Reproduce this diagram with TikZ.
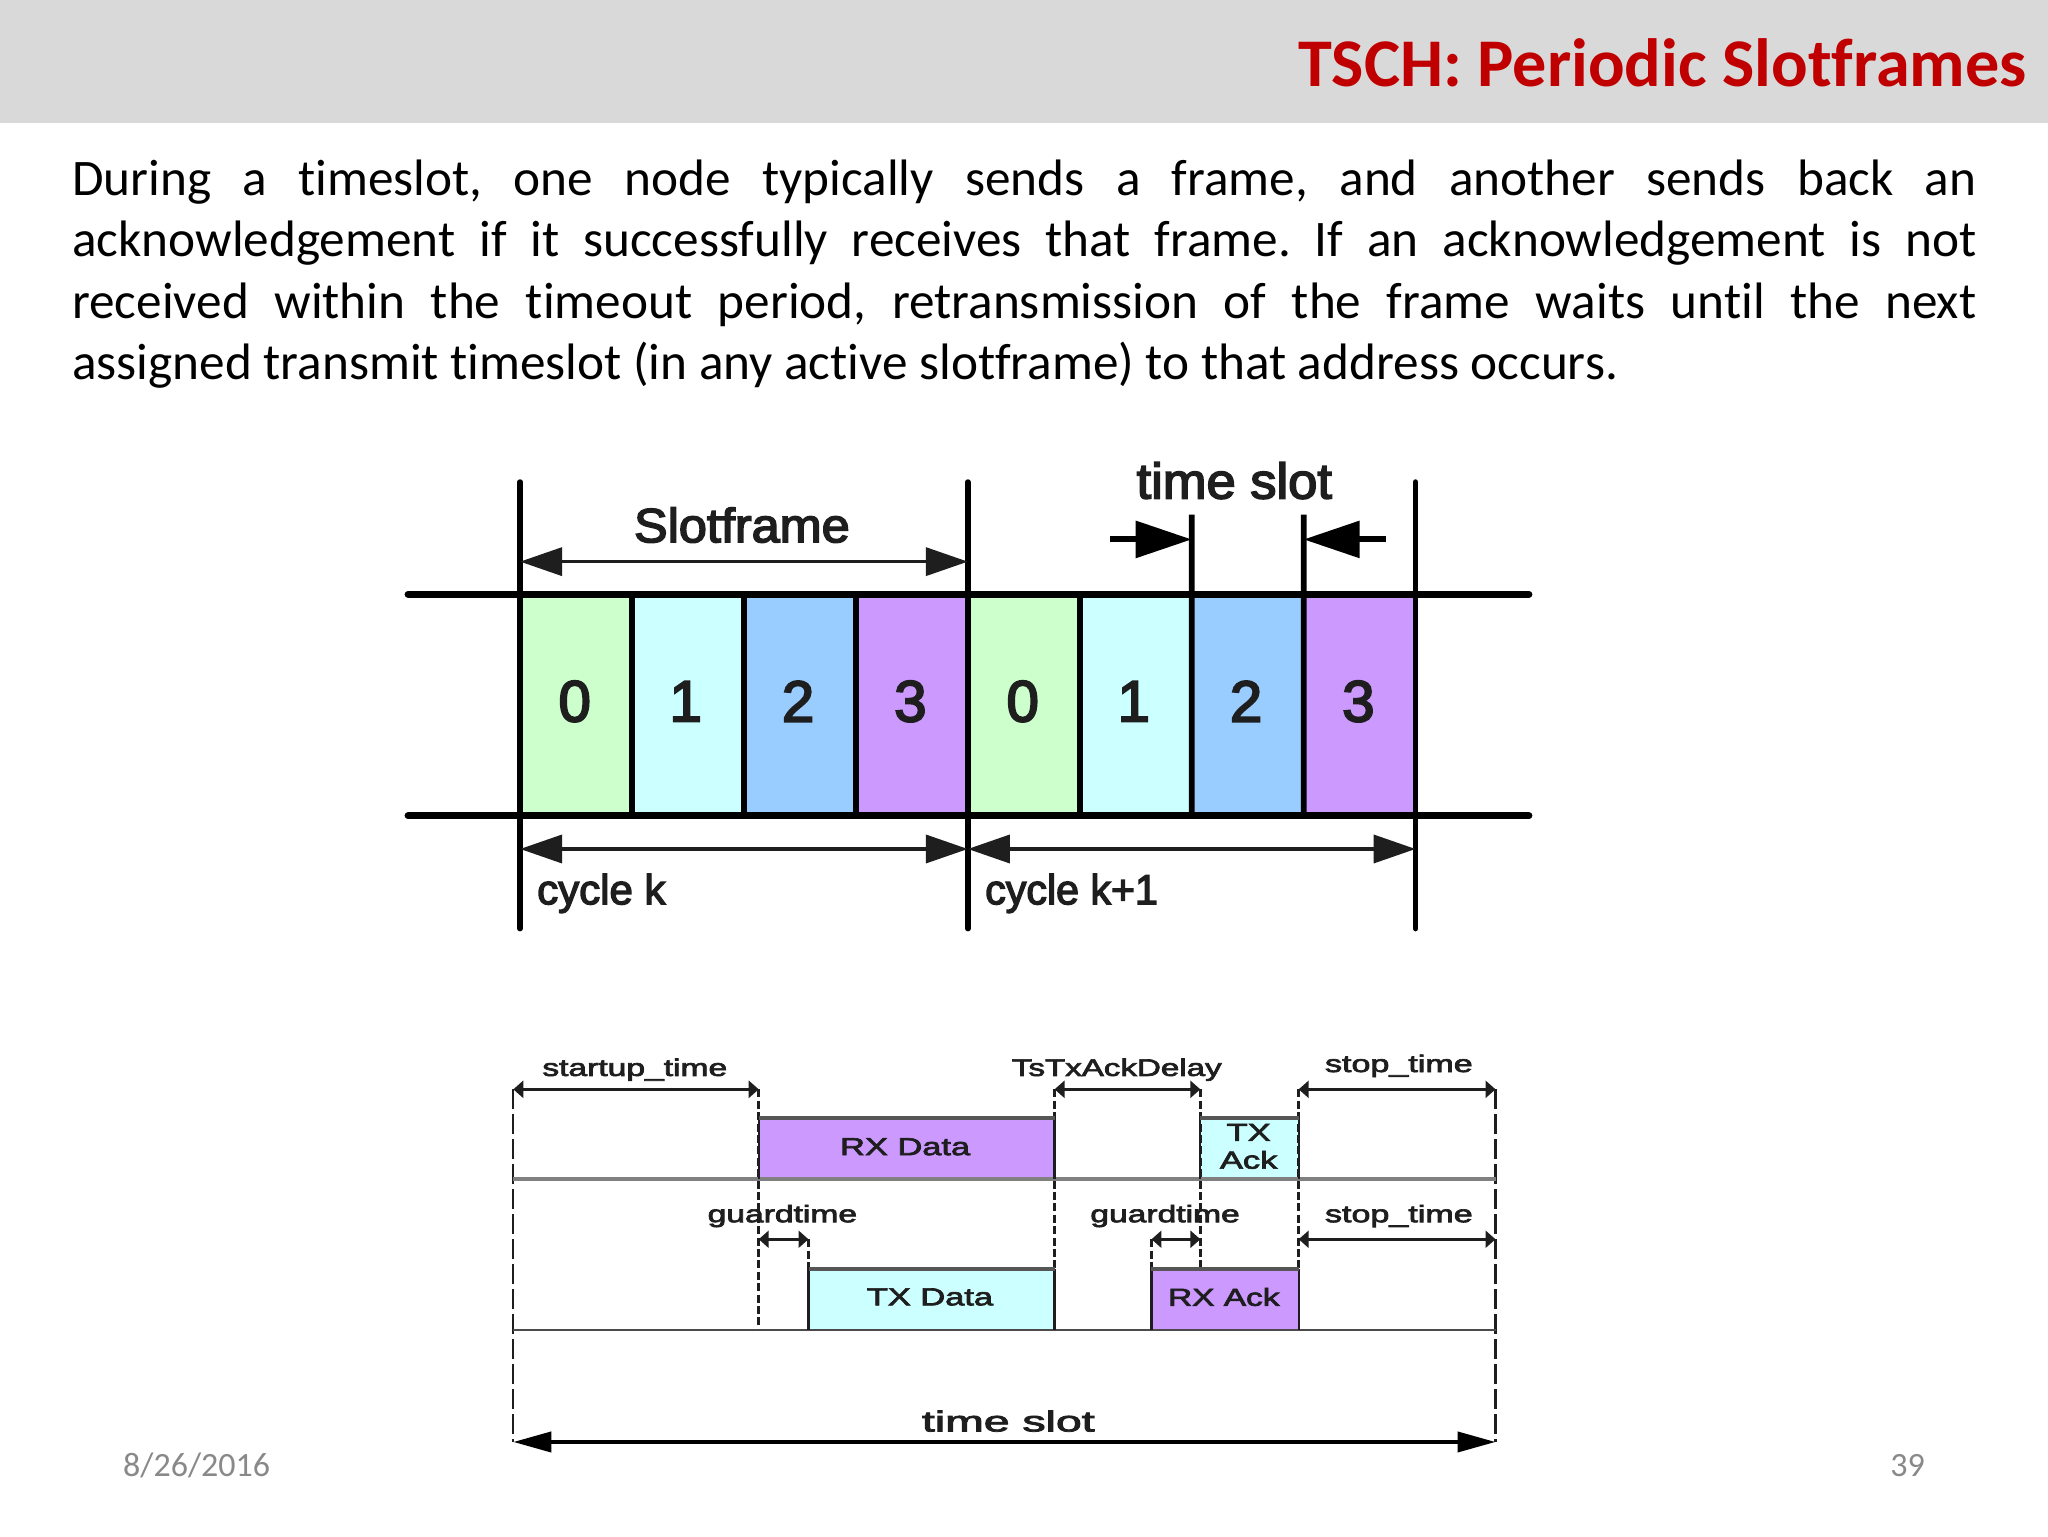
\documentclass[tikz,border=0pt]{standalone}
\usepackage{fontspec}
\usepackage{graphicx}
\usetikzlibrary{arrows.meta}
\setmainfont[Ligatures=CommonOff]{Carlito}
\newfontfamily\smfont[FakeBold=2.6]{Liberation Sans}
\newfontfamily\upfont[FakeBold=3.2]{Liberation Sans}
\newfontfamily\digfont[FakeBold=3.5]{Liberation Sans}
\frenchspacing
\definecolor{hdr}{HTML}{D9D9D9}
\definecolor{ttl}{HTML}{C00000}
\definecolor{gn}{HTML}{CCFFCC}
\definecolor{cy}{HTML}{CCFFFF}
\definecolor{bl}{HTML}{99CCFF}
\definecolor{pu}{HTML}{CC99FF}
\definecolor{ink}{HTML}{1E1E1E}
\definecolor{foot}{HTML}{898989}
% size, horizontal stretch, text
\newcommand{\lab}[3]{{\fontsize{#1}{#1}\smfont\scalebox{#2}[1]{#3}}}
\newcommand{\uplab}[3]{{\fontsize{#1}{#1}\upfont\scalebox{#2}[1]{#3}}}
\newcommand{\dig}[1]{{\fontsize{29}{29}\digfont #1}}
\tikzset{
  x=0.653061pt,y=-0.653061pt,
  rail/.style={line width=3.6pt,line cap=round,black},
  tick/.style={line width=2.7pt,line cap=round,black},
  inner/.style={line width=2.9pt,black},
  dim/.style={line width=1.8pt,ink,{Triangle[length=21pt,width=14pt]}-{Triangle[length=21pt,width=14pt]}},
  big/.style={line width=3pt,black,-{Triangle[length=28pt,width=18pt]}},
  small/.style={line width=1.7pt,ink,{Triangle[length=5pt,width=8.5pt]}-{Triangle[length=5pt,width=8.5pt]}},
  total/.style={line width=2pt,black,{Triangle[length=19pt,width=10pt]}-{Triangle[length=19pt,width=10pt]}},
  lng/.style={line width=1.1pt,ink,dash pattern=on 10pt off 2.5pt},
  sht/.style={line width=1.4pt,ink,dash pattern=on 4pt off 1.7pt},
  tline/.style={line width=1.1pt,ink},
  tedge/.style={line width=2.2pt,ink!75},
  lbl/.style={inner sep=0pt,ink},
}
\begin{document}
\begin{tikzpicture}
\useasboundingbox (0,0) rectangle (1568,1176);
\fill[white] (0,0) rectangle (1568,1176);
\fill[hdr] (0,0) rectangle (1568,94);
\node[anchor=east,inner sep=0pt,text=ttl,font=\fontsize{34.12}{34.12}\selectfont\bfseries] (title) at (1552,48) {TSCH: Periodic Slotframes};
\node[anchor=north west,inner sep=0pt,text width=952.2pt,align=justify,text=black,font=\fontsize{25.62}{30.7}\selectfont] (body) at (55,122) {During a timeslot, one node typically sends a frame, and another sends back an\linebreak acknowledgement if it successfully receives that frame. If an acknowledgement is not\linebreak received within the timeout period, retransmission of the frame waits until the next\linebreak assigned transmit timeslot (in any active slotframe) to that address occurs.};
\node[anchor=west,inner sep=0pt,text=foot,font=\fontsize{17}{17}\selectfont] (date) at (94,1122) {8/26/2016};
\node[anchor=east,inner sep=0pt,text=foot,font=\fontsize{17}{17}\selectfont] (page) at (1474,1122) {39};

% ---- upper diagram: slot cells
\foreach \i/\c/\n [count=\k from 0] in {0/gn/0,1/cy/1,2/bl/2,3/pu/3,4/gn/0,5/cy/1,6/bl/2,7/pu/3}{
  \pgfmathsetmacro{\xa}{398.2+85.7*\i}
  \pgfmathsetmacro{\xb}{398.2+85.7*(\i+1)}
  \fill[\c] (\xa,455) rectangle (\xb,624.6);
  \coordinate (t\i) at (\xa,455);
  \coordinate (b\i) at (\xa,624.6);
}
\coordinate (t8) at (1083.8,455);
\coordinate (b8) at (1083.8,624.6);
\foreach \i/\n/\x in {0/0/440,1/1/525,2/2/611,3/3/697,4/0/783,5/1/868,6/2/954,7/3/1040}{
  \node[lbl] (d\i) at (\x,537) {\dig{\n}};
}
\foreach \i in {1,2,3,5}{ \draw[inner] (t\i) -- (b\i); }
\coordinate (railTL) at (312.5,455); \coordinate (railTR) at (1170.5,455);
\coordinate (railBL) at (312.5,624.6); \coordinate (railBR) at (1170.5,624.6);
\draw[rail] (railTL) -- (railTR);
\draw[rail] (railBL) -- (railBR);
\foreach \i/\xx in {0/398.2,4/741,8/1083.8}{
  \coordinate (vt\i) at (\xx,369); \coordinate (vb\i) at (\xx,711);
  \draw[tick] (vt\i) -- (vb\i);
}
\coordinate (st6) at (912.4,394); \coordinate (st7) at (998.1,394);
\draw[inner] (st6) -- (b6);
\draw[inner] (st7) -- (b7);

\coordinate (sfA) at (398.2,430); \coordinate (sfB) at (741,430);
\draw[dim] (sfA) -- (sfB);
\node[lbl] (slotframe) at (568,402) {\uplab{24}{1.05}{Slotframe}};
\coordinate (tsA) at (850,413); \coordinate (tsB) at (912.4,413);
\coordinate (tsC) at (1061,413); \coordinate (tsD) at (998.1,413);
\draw[big] (tsA) -- (tsB);
\draw[big] (tsC) -- (tsD);
\node[lbl] (tslot) at (945,368) {\uplab{25}{1.05}{time slot}};
\coordinate (ckA) at (398.2,650); \coordinate (ckB) at (741,650); \coordinate (ckC) at (1083.8,650);
\draw[dim] (ckA) -- (ckB);
\draw[dim] (ckB) -- (ckC);
\node[lbl,anchor=west] (cyc1) at (411,684) {\uplab{21}{1}{cycle k}};
\node[lbl,anchor=west] (cyc2) at (754,684) {\uplab{21}{.98}{cycle k+1}};

% ---- lower diagram
\fill[pu] (580.9,856) rectangle (807.4,902.8);
\fill[cy] (919,856) rectangle (994.3,902.8);
\fill[cy] (619,971.7) rectangle (807.4,1017.9);
\fill[pu] (881.6,971.7) rectangle (994.3,1017.9);
\coordinate (La) at (393,834); \coordinate (Lb) at (393,1104);
\coordinate (Ra) at (1145,834); \coordinate (Rb) at (1145,1104);
\draw[lng] (La) -- (Lb);
\draw[lng] (Ra) -- (Rb);
\coordinate (A1) at (580.9,834); \coordinate (A2) at (580.9,1017.9);
\coordinate (B1) at (807.4,834); \coordinate (B2) at (807.4,971.7);
\coordinate (C1) at (919,834); \coordinate (C2) at (919,971.7);
\coordinate (D1) at (994.3,834); \coordinate (D2) at (994.3,971.7);
\coordinate (E1) at (619,948.8); \coordinate (E2) at (619,971.7);
\coordinate (F1) at (881.6,948.8); \coordinate (F2) at (881.6,971.7);
\foreach \p/\q in {A1/A2,B1/B2,C1/C2,D1/D2,E1/E2,F1/F2}{ \draw[sht] (\p) -- (\q); }
% rails
\coordinate (M1) at (393,902.8); \coordinate (M2) at (1145,902.8);
\coordinate (N1) at (393,1017.9); \coordinate (N2) at (1145,1017.9);
\draw[line width=1.8pt,black!50] (M1) -- (M2);
\draw[line width=1pt,ink!80] (N1) -- (N2);
% boxes
\draw[tline] (580.9,902.8) -- (580.9,856) (807.4,856) -- (807.4,902.8);
\draw[tedge] (580.9,856) -- (807.4,856);
\draw[tline] (919,902.8) -- (919,856) (994.3,856) -- (994.3,902.8);
\draw[tedge] (919,856) -- (994.3,856);
\draw[tline] (619,1017.9) -- (619,971.7) (807.4,971.7) -- (807.4,1017.9);
\draw[tedge] (619,971.7) -- (807.4,971.7);
\draw[tline] (881.6,1017.9) -- (881.6,971.7) (994.3,971.7) -- (994.3,1017.9);
\draw[tedge] (881.6,971.7) -- (994.3,971.7);
% dims
\draw[small] (La) -- (A1);
\draw[small] (B1) -- (C1);
\draw[small] (D1) -- (Ra);
\coordinate (H1) at (994.3,948.8); \coordinate (H2) at (1145,948.8);
\coordinate (G1) at (580.9,948.8);
\coordinate (J1) at (919,948.8);
\draw[small] (G1) -- (E1);
\draw[small] (F1) -- (J1);
\draw[small] (H1) -- (H2);
\draw[total] (Lb) -- (Rb);
% labels
\node[lbl] (l1) at (486,819) {\lab{12}{1.4}{startup\_time}};
\node[lbl] (l2) at (855,819) {\lab{12}{1.38}{TsTxAckDelay}};
\node[lbl] (l3) at (1071,816) {\lab{12}{1.42}{stop\_time}};
\node[lbl] (l4) at (1071,931) {\lab{12}{1.42}{stop\_time}};
\node[lbl] (l5) at (599,931) {\lab{12}{1.4}{guardtime}};
\node[lbl] (l6) at (892,931) {\lab{12}{1.4}{guardtime}};
\node[lbl] (rxd) at (693,878) {\lab{12.3}{1.4}{RX Data}};
\node[lbl] (txa1) at (956,867) {\lab{12.3}{1.4}{TX}};
\node[lbl] (txa2) at (956,888) {\lab{12.3}{1.4}{Ack}};
\node[lbl] (txd) at (712,993) {\lab{12.3}{1.4}{TX Data}};
\node[lbl] (rxa) at (937,993) {\lab{12.3}{1.36}{RX Ack}};
\node[lbl] (tsl) at (772,1088) {\lab{14.5}{1.6}{time slot}};
\end{tikzpicture}
\end{document}
